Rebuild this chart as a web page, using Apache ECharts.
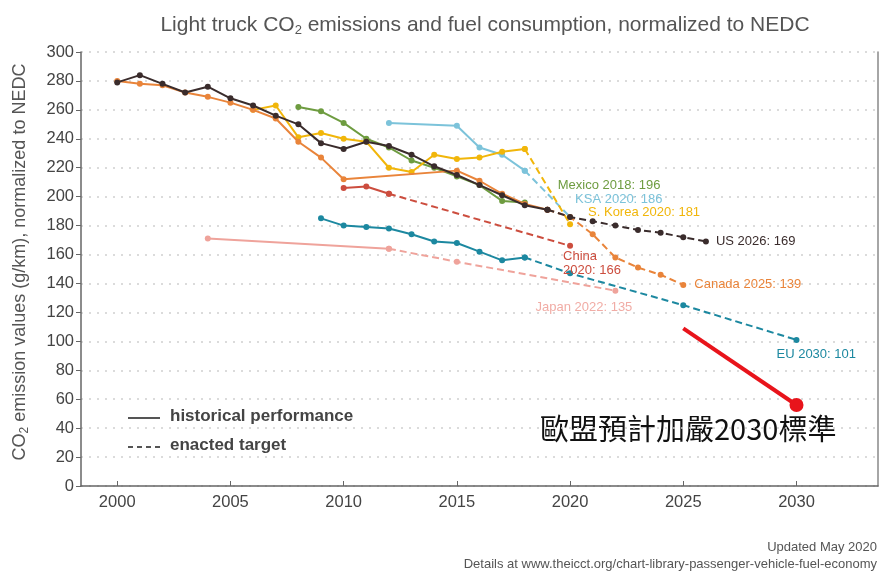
<!DOCTYPE html>
<html>
<head>
<meta charset="UTF-8">
<title>Light truck CO2</title>
<script type="text/javascript" src="https://cdn.jsdelivr.net/npm/echarts@6/dist/echarts.min.js"></script>
<style>
  html,body{margin:0;padding:0;background:#fff}
</style>
</head>
<body>
<div id="main" style="width:882px;height:574px"></div>
<script type="text/javascript">
// tick labels
var xTicks = [2000, 2005, 2010, 2015, 2020, 2025, 2030];

// historical performance, [year, g/km]
var usHist = [[2000,279],[2001,284],[2002,278],[2003,272],[2004,276],[2005,268],[2006,263],[2007,256],[2008,250],[2009,237],[2010,233],[2011,238],[2012,235],[2013,229],[2014,221],[2015,215],[2016,208],[2017,201],[2018,194],[2019,191]];
var canadaHist = [[2000,280],[2001,278],[2002,277],[2003,272],[2004,269],[2005,265],[2006,260],[2007,254],[2008,238],[2009,227],[2010,212],[2015,218],[2016,211],[2017,202],[2018,195],[2019,191]];
var koreaHist = [[2006,260],[2007,263],[2008,241],[2009,244],[2010,240],[2011,238],[2012,220],[2013,217],[2014,229],[2015,226],[2016,227],[2017,231],[2018,233]];
var mexicoHist = [[2008,262],[2009,259],[2010,251],[2011,240],[2012,234],[2013,225],[2014,220],[2015,214],[2016,208],[2017,197],[2018,196]];
var ksaHist = [[2012,251],[2015,249],[2016,234],[2017,229],[2018,218]];
var chinaHist = [[2010,206],[2011,207],[2012,202]];
var euHist = [[2009,185],[2010,180],[2011,179],[2012,178],[2013,174],[2014,169],[2015,168],[2016,162],[2017,156],[2018,158]];
var japanHist = [[2004,171],[2012,164]];

// enacted targets
var usTarget = [[2019,191],[2020,186],[2021,183],[2022,180],[2023,177],[2024,175],[2025,172],[2026,169]];
var canadaTarget = [[2019,191],[2020,186],[2021,174],[2022,158],[2023,151],[2024,146],[2025,139]];
var koreaTarget = [[2018,233],[2020,181]];
var ksaTarget = [[2018,218],[2020,186]];
var chinaTarget = [[2012,202],[2020,166]];
var euTarget = [[2018,158],[2020,147],[2025,125],[2030,101]];
var japanTarget = [[2012,164],[2015,155],[2022,135]];

// red annotation (EU proposal)
var euProposal = [[2025,109],[2030,56]];

var FONT = '"Liberation Sans", Arial, sans-serif';

function hist(name, data, color, z) {
  return {
    name: name, type: 'line', data: data, z: z,
    symbol: 'circle', symbolSize: 6,
    lineStyle: { color: color, width: 2 },
    itemStyle: { color: color },
    animation: false
  };
}
function target(name, data, color, z, lbl) {
  var d = data.map(function (p) { return p.slice(); });
  var last = { value: d[d.length - 1] };
  if (lbl) {
    last.label = Object.assign({
      show: true, color: color, fontSize: 13, fontFamily: FONT,
      formatter: lbl.text
    }, lbl.opt);
  }
  d[d.length - 1] = last;
  return {
    name: name, type: 'line', data: d, z: z,
    symbol: 'circle', symbolSize: 6,
    lineStyle: { color: color, width: 2, type: [7, 4] },
    itemStyle: { color: color },
    animation: false
  };
}

var C = {
  us: '#3a2c2c', canada: '#e9843a', korea: '#f1b60a', mexico: '#6e9c40',
  ksa: '#7cc3da', china: '#cc4d3e', eu: '#1c88a0', japan: '#efa39b'
};

var mexicoLast = mexicoHist.map(function (p) { return p.slice(); });
mexicoLast[mexicoLast.length - 1] = {
  value: mexicoLast[mexicoLast.length - 1],
  label: { show: true, position: 'right', distance: 5, offset: [25, -17],
    formatter: 'Mexico 2018: 196', color: C.mexico, fontSize: 13, fontFamily: FONT }
};

var myChart = echarts.init(document.getElementById('main'));
var option = {
  backgroundColor: '#fff',
  textStyle: { fontFamily: FONT },
  title: {
    text: '{a|Light truck CO}{s|2}{a| emissions and fuel consumption, normalized to NEDC}',
    left: 480, top: 8, textAlign: 'center',
    textStyle: {
      fontWeight: 'normal',
      rich: {
        a: { fontSize: 21, color: '#555', fontFamily: FONT, fontWeight: 'normal' },
        s: { fontSize: 13, color: '#555', fontFamily: FONT, fontWeight: 'normal', padding: [11, 0, 0, 0] }
      }
    }
  },
  grid: { left: 81, right: 4, top: 52, bottom: 88, containLabel: false },
  xAxis: {
    type: 'value', min: 1998.4, max: 2033.6,
    axisLine: { show: true, lineStyle: { color: '#666', width: 1.5 } },
    axisTick: { show: true, inside: true, length: 5, customValues: xTicks, lineStyle: { color: '#666' } },
    axisLabel: { customValues: xTicks, color: '#444', fontSize: 16.5, margin: 8, fontFamily: FONT,
      formatter: function (v) { return String(v); } },
    splitLine: { show: false }
  },
  yAxis: [{
    type: 'value', min: 0, max: 300, interval: 20,
    name: '{a|CO}{s|2}{a| emission values (g/km), normalized to NEDC}',
    nameLocation: 'middle', nameGap: 50, nameRotate: 90,
    nameTextStyle: {
      padding: [0, 0, 0, 14],
      rich: {
        a: { fontSize: 18, color: '#555', fontFamily: FONT },
        s: { fontSize: 12, color: '#555', fontFamily: FONT, padding: [9, 0, 0, 0] }
      }
    },
    axisLine: { show: true, lineStyle: { color: '#666', width: 1.5 } },
    axisTick: { show: true, length: 5, lineStyle: { color: '#666' } },
    axisLabel: { color: '#444', fontSize: 16.5, margin: 7, fontFamily: FONT },
    splitLine: { show: true, lineStyle: { color: '#cfcfcf', type: [2, 6], width: 1.5 } }
  }, {
    type: 'value', min: 0, max: 300, position: 'right',
    axisLine: { show: true, lineStyle: { color: '#888', width: 1.5 } },
    axisTick: { show: false }, axisLabel: { show: false }, splitLine: { show: false }
  }],
  graphic: [
    { type: 'line', shape: { x1: 128, y1: 418, x2: 160, y2: 418 }, style: { stroke: '#555', lineWidth: 2 } },
    { type: 'text', left: 170, top: 408, style: { text: 'historical performance', fontSize: 17, fontWeight: 'bold', fill: '#444', fontFamily: FONT } },
    { type: 'line', shape: { x1: 128, y1: 447, x2: 160, y2: 447 }, style: { stroke: '#555', lineWidth: 2, lineDash: [5, 4] } },
    { type: 'text', left: 170, top: 437, style: { text: 'enacted target', fontSize: 17, fontWeight: 'bold', fill: '#444', fontFamily: FONT } },
    { type: 'text', left: 540, top: 414, style: { text: '歐盟預計加嚴2030標準', fontSize: 29, fill: '#111', fontFamily: '"Noto Sans CJK TC", sans-serif' } },
    { type: 'text', right: 5, top: 541, style: { text: 'Updated May 2020', fontSize: 13, fill: '#555', fontFamily: FONT } },
    { type: 'text', right: 5, top: 558, style: { text: 'Details at www.theicct.org/chart-library-passenger-vehicle-fuel-economy', fontSize: 13, fill: '#555', fontFamily: FONT } }
  ],
  series: [
    hist('Japan', japanHist, C.japan, 2),
    target('Japan target', japanTarget, C.japan, 2, { text: 'Japan 2022: 135', opt: { position: 'bottom', distance: 7, align: 'right', offset: [17, 0], color: '#f1aca5' } }),
    hist('EU', euHist, C.eu, 3),
    target('EU target', euTarget, C.eu, 3, { text: 'EU 2030: 101', opt: { position: 'bottom', distance: 5, align: 'left', offset: [-20, 0] } }),
    hist('China', chinaHist, C.china, 3),
    target('China target', chinaTarget, C.china, 3, { text: 'China\n2020: 166', opt: { position: 'bottom', distance: 1, align: 'left', offset: [-7, 0], lineHeight: 14 } }),
    hist('KSA', ksaHist, C.ksa, 4),
    target('KSA target', ksaTarget, C.ksa, 4, { text: 'KSA 2020: 186', opt: { position: 'right', distance: 2, offset: [0, -17] } }),
    {
      name: 'Mexico', type: 'line', data: mexicoLast, z: 5,
      symbol: 'circle', symbolSize: 6,
      lineStyle: { color: C.mexico, width: 2 }, itemStyle: { color: C.mexico }, animation: false
    },
    hist('S. Korea', koreaHist, C.korea, 5),
    target('S. Korea target', koreaTarget, C.korea, 5, { text: 'S. Korea 2020: 181', opt: { position: 'right', distance: 5, offset: [10, -12] } }),
    hist('Canada', canadaHist, C.canada, 6),
    target('Canada target', canadaTarget, C.canada, 6, { text: 'Canada 2025: 139', opt: { position: 'right', distance: 8 } }),
    hist('US', usHist, C.us, 7),
    target('US target', usTarget, C.us, 7, { text: 'US 2026: 169', opt: { position: 'right', distance: 7 } }),
    {
      name: 'EU proposal', type: 'line', z: 8,
      data: [euProposal[0], { value: euProposal[1], symbol: 'circle', symbolSize: 14 }],
      symbol: 'none',
      lineStyle: { color: '#e8141b', width: 4 }, itemStyle: { color: '#e8141b' }, animation: false
    }
  ]
};
myChart.setOption(option);
</script>
</body>
</html>
